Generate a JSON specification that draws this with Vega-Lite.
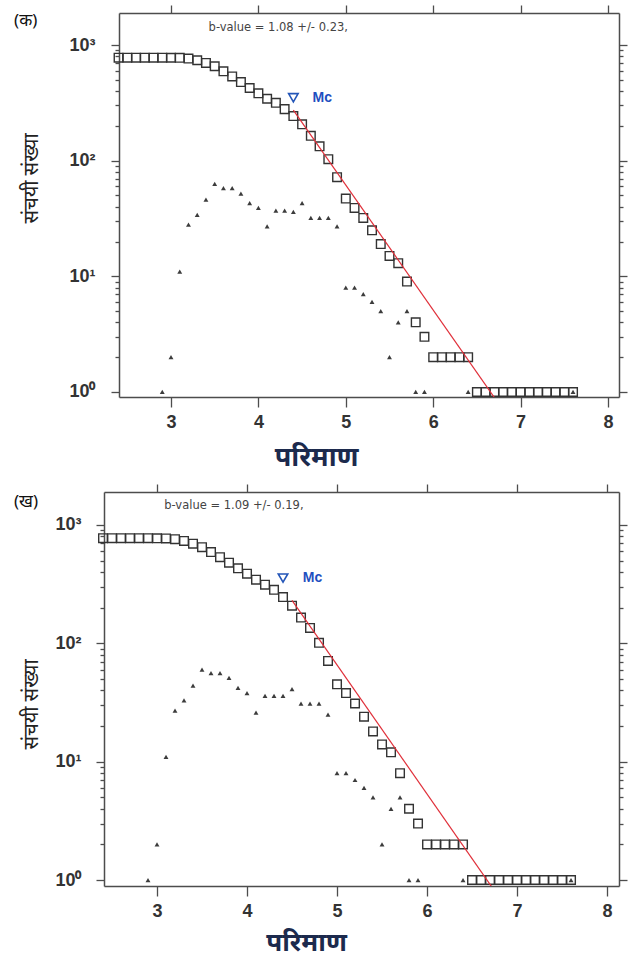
{
  "$schema": "https://vega.github.io/schema/vega-lite/v6.json",
  "background": "white",
  "padding": {"left": 13, "top": 4, "right": 0, "bottom": 6},
  "columns": 1,
  "align": "none",
  "spacing": 13,
  "config": {
    "view": {"stroke": null},
    "axis": {"grid": false, "domainColor": "#4d4d4d", "domainWidth": 1.5, "tickColor": "#4d4d4d", "tickWidth": 1.3, "labelFont": "Liberation Sans", "labelFontWeight": "bold", "labelColor": "#333333", "labelFontSize": 18}
  },
  "datasets": {
    "sq1": [
      {"M": 2.4, "N": 777}, {"M": 2.5, "N": 777}, {"M": 2.6, "N": 777}, {"M": 2.7, "N": 777}, {"M": 2.8, "N": 777}, {"M": 2.9, "N": 777},
      {"M": 3.0, "N": 776}, {"M": 3.1, "N": 774}, {"M": 3.2, "N": 763}, {"M": 3.3, "N": 738}, {"M": 3.4, "N": 700}, {"M": 3.5, "N": 655},
      {"M": 3.6, "N": 592}, {"M": 3.7, "N": 535}, {"M": 3.8, "N": 478}, {"M": 3.9, "N": 425}, {"M": 4.0, "N": 382}, {"M": 4.1, "N": 343},
      {"M": 4.2, "N": 316}, {"M": 4.3, "N": 279}, {"M": 4.4, "N": 243}, {"M": 4.5, "N": 206}, {"M": 4.6, "N": 164}, {"M": 4.7, "N": 133},
      {"M": 4.8, "N": 103}, {"M": 4.9, "N": 72}, {"M": 5.0, "N": 47}, {"M": 5.1, "N": 39}, {"M": 5.2, "N": 32}, {"M": 5.3, "N": 25},
      {"M": 5.4, "N": 19}, {"M": 5.5, "N": 15}, {"M": 5.6, "N": 13}, {"M": 5.7, "N": 9}, {"M": 5.8, "N": 4}, {"M": 5.9, "N": 3},
      {"M": 6.0, "N": 2}, {"M": 6.1, "N": 2}, {"M": 6.2, "N": 2}, {"M": 6.3, "N": 2}, {"M": 6.4, "N": 2},
      {"M": 6.5, "N": 1}, {"M": 6.6, "N": 1}, {"M": 6.7, "N": 1}, {"M": 6.8, "N": 1}, {"M": 6.9, "N": 1}, {"M": 7.0, "N": 1},
      {"M": 7.1, "N": 1}, {"M": 7.2, "N": 1}, {"M": 7.3, "N": 1}, {"M": 7.4, "N": 1}, {"M": 7.5, "N": 1}, {"M": 7.6, "N": 1}
    ],
    "tr1": [
      {"M": 2.9, "N": 1}, {"M": 3.0, "N": 2}, {"M": 3.1, "N": 11}, {"M": 3.2, "N": 28}, {"M": 3.3, "N": 34}, {"M": 3.4, "N": 46},
      {"M": 3.5, "N": 63}, {"M": 3.6, "N": 58}, {"M": 3.7, "N": 58}, {"M": 3.8, "N": 52}, {"M": 3.9, "N": 43}, {"M": 4.0, "N": 39},
      {"M": 4.1, "N": 27}, {"M": 4.2, "N": 37}, {"M": 4.3, "N": 37}, {"M": 4.4, "N": 36}, {"M": 4.5, "N": 43}, {"M": 4.6, "N": 32},
      {"M": 4.7, "N": 32}, {"M": 4.8, "N": 32}, {"M": 4.9, "N": 27}, {"M": 5.0, "N": 8}, {"M": 5.1, "N": 8}, {"M": 5.2, "N": 7},
      {"M": 5.3, "N": 6}, {"M": 5.4, "N": 5}, {"M": 5.5, "N": 2}, {"M": 5.6, "N": 4}, {"M": 5.7, "N": 5}, {"M": 5.8, "N": 1},
      {"M": 5.9, "N": 1}, {"M": 6.4, "N": 1}, {"M": 7.6, "N": 1}
    ],
    "fit1": [{"M": 4.4, "N": 274}, {"M": 6.75, "N": 0.79}],
    "mc1": [{"M": 4.4, "N": 350}],
    "sq2": [
      {"M": 2.4, "N": 773}, {"M": 2.5, "N": 773}, {"M": 2.6, "N": 773}, {"M": 2.7, "N": 773}, {"M": 2.8, "N": 773}, {"M": 2.9, "N": 773},
      {"M": 3.0, "N": 772}, {"M": 3.1, "N": 770}, {"M": 3.2, "N": 759}, {"M": 3.3, "N": 733}, {"M": 3.4, "N": 695}, {"M": 3.5, "N": 650},
      {"M": 3.6, "N": 590}, {"M": 3.7, "N": 535}, {"M": 3.8, "N": 480}, {"M": 3.9, "N": 430}, {"M": 4.0, "N": 388}, {"M": 4.1, "N": 345},
      {"M": 4.2, "N": 313}, {"M": 4.3, "N": 283}, {"M": 4.4, "N": 246}, {"M": 4.5, "N": 208}, {"M": 4.6, "N": 165}, {"M": 4.7, "N": 135},
      {"M": 4.8, "N": 101}, {"M": 4.9, "N": 71}, {"M": 5.0, "N": 45}, {"M": 5.1, "N": 38}, {"M": 5.2, "N": 31}, {"M": 5.3, "N": 24},
      {"M": 5.4, "N": 18}, {"M": 5.5, "N": 14}, {"M": 5.6, "N": 12}, {"M": 5.7, "N": 8}, {"M": 5.8, "N": 4}, {"M": 5.9, "N": 3},
      {"M": 6.0, "N": 2}, {"M": 6.1, "N": 2}, {"M": 6.2, "N": 2}, {"M": 6.3, "N": 2}, {"M": 6.4, "N": 2},
      {"M": 6.5, "N": 1}, {"M": 6.6, "N": 1}, {"M": 6.7, "N": 1}, {"M": 6.8, "N": 1}, {"M": 6.9, "N": 1}, {"M": 7.0, "N": 1},
      {"M": 7.1, "N": 1}, {"M": 7.2, "N": 1}, {"M": 7.3, "N": 1}, {"M": 7.4, "N": 1}, {"M": 7.5, "N": 1}, {"M": 7.6, "N": 1}
    ],
    "tr2": [
      {"M": 2.9, "N": 1}, {"M": 3.0, "N": 2}, {"M": 3.1, "N": 11}, {"M": 3.2, "N": 27}, {"M": 3.3, "N": 33}, {"M": 3.4, "N": 44},
      {"M": 3.5, "N": 60}, {"M": 3.6, "N": 56}, {"M": 3.7, "N": 56}, {"M": 3.8, "N": 51}, {"M": 3.9, "N": 42}, {"M": 4.0, "N": 38},
      {"M": 4.1, "N": 26}, {"M": 4.2, "N": 36}, {"M": 4.3, "N": 36}, {"M": 4.4, "N": 36}, {"M": 4.5, "N": 41}, {"M": 4.6, "N": 31},
      {"M": 4.7, "N": 31}, {"M": 4.8, "N": 31}, {"M": 4.9, "N": 25}, {"M": 5.0, "N": 8}, {"M": 5.1, "N": 8}, {"M": 5.2, "N": 7},
      {"M": 5.3, "N": 6}, {"M": 5.4, "N": 5}, {"M": 5.5, "N": 2}, {"M": 5.6, "N": 4}, {"M": 5.7, "N": 5}, {"M": 5.8, "N": 1},
      {"M": 5.9, "N": 1}, {"M": 6.4, "N": 1}, {"M": 7.6, "N": 1}
    ],
    "fit2": [{"M": 4.5, "N": 231}, {"M": 6.75, "N": 0.81}],
    "mc2": [{"M": 4.4, "N": 356}],
    "one": [{}]
  },
  "concat": [
    {
      "width": 515,
      "height": 384,
      "resolve": {"axis": {"x": "independent", "y": "independent"}},
      "layer": [
        {
          "data": {"name": "sq1"},
          "mark": {"type": "point", "shape": "square", "filled": false, "color": "#333333", "strokeWidth": 1.4, "size": 74, "opacity": 1},
          "encoding": {
            "x": {"field": "M", "type": "quantitative", "scale": {"domain": [2.405, 8.126], "range": [15, 515], "nice": false, "zero": false},
              "axis": {"orient": "bottom", "values": [3, 4, 5, 6, 7, 8], "tickSize": 10, "labelPadding": 6, "title": "परिमाण", "titleFont": "Noto Sans", "titleFontSize": 27, "titleFontWeight": "bold", "titleColor": "#1c2a4d", "titleX": 212, "titleY": 68, "titleBaseline": "alphabetic"}},
            "y": {"field": "N", "type": "quantitative", "scale": {"type": "log", "domain": [0.905, 1891], "nice": false},
              "axis": {"orient": "left", "offset": -15, "values": [1, 10, 100, 1000], "labelExpr": "'10' + (datum.value >= 1000 ? '³' : datum.value >= 100 ? '²' : datum.value >= 10 ? '¹' : '⁰')", "tickSize": 8, "labelPadding": 16, "title": "संचयी संख्या", "titleFont": "Noto Sans", "titleFontSize": 20, "titleFontWeight": "normal", "titleColor": "#222222", "titleX": -78, "titleY": 165}}
          }
        },
        {
          "data": {"name": "tr1"},
          "mark": {"type": "point", "shape": "triangle-up", "filled": true, "color": "#3c3c3c", "size": 24, "opacity": 1},
          "encoding": {
            "x": {"field": "M", "type": "quantitative", "scale": {"domain": [2.405, 8.126], "range": [15, 515], "nice": false, "zero": false},
              "axis": {"orient": "top", "values": [3, 4, 5, 6, 7, 8], "tickSize": 8, "labels": false, "title": null}},
            "y": {"field": "N", "type": "quantitative", "scale": {"type": "log", "domain": [0.905, 1891], "nice": false},
              "axis": {"orient": "left", "offset": -15, "values": [2, 3, 4, 5, 6, 7, 8, 9, 20, 30, 40, 50, 60, 70, 80, 90, 200, 300, 400, 500, 600, 700, 800, 900], "tickSize": 4, "labels": false, "domain": false, "title": null}}
          }
        },
        {
          "data": {"name": "fit1"},
          "mark": {"type": "line", "color": "#e0303a", "strokeWidth": 1.2, "clip": true},
          "encoding": {
            "x": {"field": "M", "type": "quantitative", "scale": {"domain": [2.405, 8.126], "range": [15, 515], "nice": false, "zero": false}, "axis": null},
            "y": {"field": "N", "type": "quantitative", "scale": {"type": "log", "domain": [0.905, 1891], "nice": false},
              "axis": {"orient": "right", "values": [1, 10, 100, 1000], "tickSize": 8, "labels": false, "title": null}}
          }
        },
        {
          "data": {"name": "mc1"},
          "mark": {"type": "point", "shape": "triangle-down", "filled": false, "color": "#2456b8", "strokeWidth": 1.6, "size": 90, "opacity": 1},
          "encoding": {
            "x": {"field": "M", "type": "quantitative", "scale": {"domain": [2.405, 8.126], "range": [15, 515], "nice": false, "zero": false}, "axis": null},
            "y": {"field": "N", "type": "quantitative", "scale": {"type": "log", "domain": [0.905, 1891], "nice": false},
              "axis": {"orient": "right", "values": [2, 3, 4, 5, 6, 7, 8, 9, 20, 30, 40, 50, 60, 70, 80, 90, 200, 300, 400, 500, 600, 700, 800, 900], "tickSize": 4, "labels": false, "domain": false, "title": null}}
          }
        },
        {
          "data": {"name": "one"},
          "mark": {"type": "text", "align": "left", "baseline": "middle", "font": "Liberation Sans", "fontWeight": "bold", "fontSize": 14, "color": "#1f4fc0"},
          "encoding": {
            "x": {"datum": 4.62, "type": "quantitative", "scale": {"domain": [2.405, 8.126], "range": [15, 515], "nice": false, "zero": false}, "axis": null},
            "y": {"datum": 350, "type": "quantitative", "scale": {"type": "log", "domain": [0.905, 1891], "nice": false}, "axis": null},
            "text": {"value": "Mc"}
          }
        },
        {
          "data": {"name": "one"},
          "mark": {"type": "text", "align": "left", "baseline": "middle", "font": "DejaVu Sans", "fontSize": 11.5, "color": "#444444"},
          "encoding": {
            "x": {"datum": 3.43, "type": "quantitative", "scale": {"domain": [2.405, 8.126], "range": [15, 515], "nice": false, "zero": false}, "axis": null},
            "y": {"datum": 1400, "type": "quantitative", "scale": {"type": "log", "domain": [0.905, 1891], "nice": false}, "axis": null},
            "text": {"value": "b-value = 1.08 +/- 0.23,"}
          }
        },
        {
          "data": {"name": "one"},
          "mark": {"type": "text", "align": "left", "baseline": "middle", "font": "Noto Sans", "fontSize": 17, "color": "#111111"},
          "encoding": {
            "x": {"datum": 1.204, "type": "quantitative", "scale": {"domain": [2.405, 8.126], "range": [15, 515], "nice": false, "zero": false}, "axis": null},
            "y": {"datum": 1613, "type": "quantitative", "scale": {"type": "log", "domain": [0.905, 1891], "nice": false}, "axis": null},
            "text": {"value": "(क)"}
          }
        }
      ]
    },
    {
      "width": 515,
      "height": 394,
      "resolve": {"axis": {"x": "independent", "y": "independent"}},
      "layer": [
        {
          "data": {"name": "sq2"},
          "mark": {"type": "point", "shape": "square", "filled": false, "color": "#333333", "strokeWidth": 1.4, "size": 74, "opacity": 1},
          "encoding": {
            "x": {"field": "M", "type": "quantitative", "scale": {"domain": [2.411, 8.133], "nice": false, "zero": false},
              "axis": {"orient": "bottom", "values": [3, 4, 5, 6, 7, 8], "tickSize": 10, "labelPadding": 6, "title": "परिमाण", "titleFont": "Noto Sans", "titleFontSize": 26, "titleFontWeight": "bold", "titleColor": "#1c2a4d", "titleX": 202, "titleY": 64, "titleBaseline": "alphabetic"}},
            "y": {"field": "N", "type": "quantitative", "scale": {"type": "log", "domain": [0.89, 1900], "nice": false},
              "axis": {"orient": "left", "values": [1, 10, 100, 1000], "labelExpr": "'10' + (datum.value >= 1000 ? '³' : datum.value >= 100 ? '²' : datum.value >= 10 ? '¹' : '⁰')", "tickSize": 8, "labelPadding": 15, "title": "संचयी संख्या", "titleFont": "Noto Sans", "titleFontSize": 20, "titleFontWeight": "normal", "titleColor": "#222222", "titleX": -63, "titleY": 212}}
          }
        },
        {
          "data": {"name": "tr2"},
          "mark": {"type": "point", "shape": "triangle-up", "filled": true, "color": "#3c3c3c", "size": 24, "opacity": 1},
          "encoding": {
            "x": {"field": "M", "type": "quantitative", "scale": {"domain": [2.411, 8.133], "nice": false, "zero": false},
              "axis": {"orient": "top", "values": [3, 4, 5, 6, 7, 8], "tickSize": 8, "labels": false, "title": null}},
            "y": {"field": "N", "type": "quantitative", "scale": {"type": "log", "domain": [0.89, 1900], "nice": false},
              "axis": {"orient": "left", "values": [2, 3, 4, 5, 6, 7, 8, 9, 20, 30, 40, 50, 60, 70, 80, 90, 200, 300, 400, 500, 600, 700, 800, 900], "tickSize": 4, "labels": false, "domain": false, "title": null}}
          }
        },
        {
          "data": {"name": "fit2"},
          "mark": {"type": "line", "color": "#e0303a", "strokeWidth": 1.2, "clip": true},
          "encoding": {
            "x": {"field": "M", "type": "quantitative", "scale": {"domain": [2.411, 8.133], "nice": false, "zero": false}, "axis": null},
            "y": {"field": "N", "type": "quantitative", "scale": {"type": "log", "domain": [0.89, 1900], "nice": false},
              "axis": {"orient": "right", "values": [1, 10, 100, 1000], "tickSize": 8, "labels": false, "title": null}}
          }
        },
        {
          "data": {"name": "mc2"},
          "mark": {"type": "point", "shape": "triangle-down", "filled": false, "color": "#2456b8", "strokeWidth": 1.6, "size": 90, "opacity": 1},
          "encoding": {
            "x": {"field": "M", "type": "quantitative", "scale": {"domain": [2.411, 8.133], "nice": false, "zero": false}, "axis": null},
            "y": {"field": "N", "type": "quantitative", "scale": {"type": "log", "domain": [0.89, 1900], "nice": false},
              "axis": {"orient": "right", "values": [2, 3, 4, 5, 6, 7, 8, 9, 20, 30, 40, 50, 60, 70, 80, 90, 200, 300, 400, 500, 600, 700, 800, 900], "tickSize": 4, "labels": false, "domain": false, "title": null}}
          }
        },
        {
          "data": {"name": "one"},
          "mark": {"type": "text", "align": "left", "baseline": "middle", "font": "Liberation Sans", "fontWeight": "bold", "fontSize": 14, "color": "#1f4fc0"},
          "encoding": {
            "x": {"datum": 4.62, "type": "quantitative", "scale": {"domain": [2.411, 8.133], "nice": false, "zero": false}, "axis": null},
            "y": {"datum": 356, "type": "quantitative", "scale": {"type": "log", "domain": [0.89, 1900], "nice": false}, "axis": null},
            "text": {"value": "Mc"}
          }
        },
        {
          "data": {"name": "one"},
          "mark": {"type": "text", "align": "left", "baseline": "middle", "font": "DejaVu Sans", "fontSize": 11.5, "color": "#444444"},
          "encoding": {
            "x": {"datum": 3.08, "type": "quantitative", "scale": {"domain": [2.411, 8.133], "nice": false, "zero": false}, "axis": null},
            "y": {"datum": 1445, "type": "quantitative", "scale": {"type": "log", "domain": [0.89, 1900], "nice": false}, "axis": null},
            "text": {"value": "b-value = 1.09 +/- 0.19,"}
          }
        },
        {
          "data": {"name": "one"},
          "mark": {"type": "text", "align": "left", "baseline": "middle", "font": "Noto Sans", "fontSize": 17, "color": "#111111"},
          "encoding": {
            "x": {"datum": 1.411, "type": "quantitative", "scale": {"domain": [2.411, 8.133], "nice": false, "zero": false}, "axis": null},
            "y": {"datum": 1564, "type": "quantitative", "scale": {"type": "log", "domain": [0.89, 1900], "nice": false}, "axis": null},
            "text": {"value": "(ख)"}
          }
        }
      ]
    }
  ]
}
